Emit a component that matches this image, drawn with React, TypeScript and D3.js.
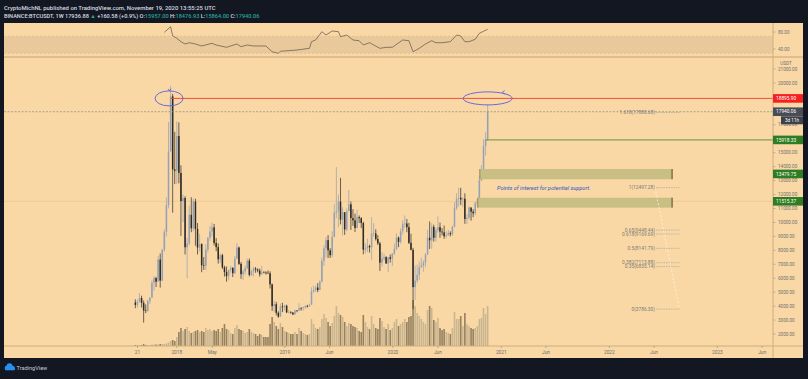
import React from 'react';
import * as d3 from 'd3';

// ---------- DATA (weekly BINANCE:BTCUSDT, weeks from 2017-08-14) ----------
const firstWeek = '2017-08-14';
const firstOpen = 4261.48;
const lastOpen = 15957.0;

const closes = [
  // 2017
  4086, 4310, 4580, 4230, 3690, 3660, 4380, 4610, 5680, 6010, 5750, 7340, 5830, 8040, 9330, 11250, 15090, 19040, 13800, 13700,
  // 2018
  16200, 13550, 11530, 11750, 8220, 8500, 10550, 9580, 11500, 9530, 8200, 8450, 6930, 6900, 8050, 8900, 9350, 9650, 8530, 8230,
  7350, 7650, 6780, 6450, 6150, 6600, 6740, 6360, 7400, 8200, 7030, 6290, 6490, 6720, 7260, 6240, 6490, 6700, 6630, 6550,
  6280, 6410, 6400, 6390, 6350, 5560, 4000, 4140, 3520, 3250, 3980, 3920, 4030,
  // 2019
  3550, 3550, 3540, 3410, 3690, 3670, 3870, 3860, 3920, 4010, 4000, 4100, 5050, 5150, 5330, 5150, 5750, 7250, 8150, 8730,
  8000, 7650, 8960, 10700, 10800, 11490, 10200, 10740, 9500, 10800, 11300, 10310, 10150, 9600, 10380, 10300, 9960, 8050, 8150, 8310,
  8220, 9200, 9210, 8810, 8500, 7120, 7400, 7510, 7060, 7500, 7390, 7760,
  // 2020
  8110, 8910, 8600, 9370, 9900, 9920, 9660, 8540, 8040, 5360, 5830, 6240, 6780, 6910, 7120, 7700, 8900, 8720, 9680, 8900,
  9450, 9660, 9340, 9290, 9010, 9070, 9230, 9160, 9690, 11050, 11700, 11770, 11650, 11700, 10250, 10330, 11080, 10770, 10660, 11370,
  11500, 13030, 13780, 15480, 15960, 17940.06,
];

const highs = [
  4485, 4453, 4939, 4750, 4400, 4123, 4450, 4620, 5856, 6150, 6100, 7600, 7770, 8100, 9500, 11800, 17204, 19798, 19220, 16500,
  17250, 17176, 14100, 12000, 11880, 8900, 11200, 11800, 11700, 11700, 9960, 9180, 8500, 7520, 8430, 8940, 9760, 9990, 9890, 8880,
  8500, 7750, 7750, 6900, 6840, 6600, 6880, 6790, 7600, 8500, 8270, 7160, 6620, 6880, 7400, 7410, 6600, 6830, 6800, 6700,
  6690, 6890, 6500, 6500, 6560, 6500, 5620, 4400, 4310, 3630, 4200, 4240, 4090,
  4100, 3720, 3640, 3550, 3740, 3700, 4200, 3910, 3970, 4060, 4090, 4180, 5350, 5470, 5460, 5650, 5850, 7480, 8370, 8950,
  9090, 8150, 9380, 11300, 13970, 12000, 13200, 11080, 10700, 11000, 12330, 11500, 10950, 10630, 10910, 10500, 10380, 10050, 8520, 8830,
  8410, 10370, 9950, 9510, 9090, 8600, 7870, 7750, 7580, 7520, 7700, 7810,
  8470, 9200, 8990, 9580, 10160, 10500, 10250, 9970, 9190, 8180, 6900, 6970, 7200, 7470, 7290, 7800, 9470, 10070, 9950, 9840,
  9600, 10430, 9990, 9590, 9780, 9360, 9470, 9360, 9770, 11450, 12090, 12480, 12490, 11800, 12090, 10600, 11180, 10990, 10950, 11490,
  11720, 13350, 14100, 15970, 16480, 18476.93,
];

const lows = [
  3850, 3900, 4250, 3900, 2817, 3500, 3600, 4150, 4600, 5100, 5370, 6030, 5325, 5800, 7890, 9000, 11010, 15200, 10700, 12750,
  12750, 12812, 9035, 10030, 7700, 6000, 8350, 9300, 9380, 8330, 7700, 7900, 6430, 6600, 6580, 7830, 8680, 8980, 8350, 7940,
  7050, 7080, 6660, 6120, 5750, 5860, 6390, 6080, 6300, 7380, 6950, 5950, 5880, 6250, 6650, 6130, 6150, 6130, 6390, 6420,
  6110, 6260, 6380, 6260, 6310, 5260, 3650, 3550, 3330, 3160, 3240, 3570, 3670,
  3500, 3480, 3450, 3350, 3370, 3560, 3650, 3680, 3670, 3800, 3900, 3950, 4100, 4950, 5030, 5000, 5150, 5690, 6870, 7500,
  7450, 7450, 7500, 8950, 10300, 9650, 9860, 9070, 9110, 9380, 10820, 9460, 9750, 9310, 9600, 9960, 9600, 7710, 7780, 7880,
  7840, 7300, 8970, 8700, 8380, 6520, 6850, 7260, 7030, 6440, 7120, 6870,
  7670, 8020, 8230, 8470, 9140, 9620, 9300, 8450, 8000, 3782, 4440, 5670, 5860, 6770, 6470, 6790, 7680, 8100, 8120, 8630,
  8630, 9270, 8900, 9070, 8830, 8890, 9050, 9000, 9030, 9650, 10900, 11150, 11250, 11110, 9900, 9880, 10220, 10130, 10380, 10530,
  11170, 11400, 12970, 13210, 14800, 15864,
];

// weekly volume, thousand BTC
const volumes = [
  15, 15, 15, 15, 30, 15, 15, 15, 22, 22, 22, 22, 30, 30, 30, 38, 52, 75, 90, 75,
  135, 210, 270, 225, 255, 285, 225, 195, 210, 225, 240, 210, 225, 210, 270, 240, 255, 225, 240, 225,
  255, 210, 270, 330, 255, 240, 195, 180, 270, 315, 255, 240, 225, 195, 210, 255, 210, 195, 180, 150,
  180, 165, 135, 135, 135, 330, 435, 360, 300, 255, 345, 285, 225,
  210, 195, 180, 180, 210, 180, 270, 225, 195, 180, 165, 180, 405, 330, 270, 255, 285, 405, 480, 420,
  360, 300, 345, 450, 600, 495, 465, 435, 360, 300, 345, 330, 300, 285, 270, 225, 210, 465, 360, 285,
  255, 450, 330, 270, 255, 420, 375, 285, 255, 330, 240, 270,
  360, 405, 300, 330, 360, 405, 360, 435, 450, 690, 600, 495, 450, 405, 360, 330, 540, 600, 570, 390,
  360, 420, 270, 240, 255, 210, 195, 180, 270, 510, 405, 405, 450, 300, 495, 330, 300, 270, 255, 270,
  300, 405, 420, 570, 480, 600,
];

// RSI(14): [week index, value]
const rsiWeeks = [14, 17, 18, 20, 22, 24, 26, 29, 32, 37, 39, 44, 49, 51, 54, 57, 63, 66, 69, 70, 78, 84, 85, 87, 90, 92, 95, 98, 99, 102, 105, 108, 110, 113, 118, 121, 124, 129, 132, 134, 137, 140, 143, 145, 148, 152, 155, 157, 159, 161, 164, 166, 170];
const rsiValues = [79.3, 92.5, 71.3, 65.2, 57.2, 51.8, 54.8, 51.8, 47.1, 53.4, 49.4, 44.0, 51.8, 45.4, 49.4, 47.1, 47.1, 33.6, 29.9, 34.6, 37.6, 41.6, 57.2, 61.2, 80.7, 72.9, 82.4, 80.7, 68.9, 72.9, 61.2, 59.5, 49.4, 54.8, 41.6, 44.0, 44.0, 61.2, 59.5, 33.6, 41.6, 51.8, 59.5, 54.8, 54.8, 57.2, 72.9, 70.6, 57.2, 57.2, 62.8, 76.9, 86.4];

const priceTicks = [2000, 3000, 4000, 5000, 6000, 7000, 8000, 9000, 10000, 11000, 12000, 13000, 14000, 15000, 16000, 17000, 18000, 19000, 20000, 21000];
const rsiTicks = [80, 40];

const timeLabelDates = ['2017-08-21', '2018-01-01', '2018-05-01', '2019-01-01', '2019-06-01', '2020-01-01', '2020-06-01', '2021-01-01', '2021-06-01', '2022-01-01', '2022-06-01', '2023-01-01', '2023-06-01'];
const timeLabelTexts = ['21', '2018', 'May', '2019', 'Jun', '2020', 'Jun', '2021', 'Jun', '2022', 'Jun', '2023', 'Jun'];

const athPrice = 18895.9;
const lastPrice = 17940.06;
const greenLevels = [15918.33, 13479.75, 11515.37];
const zoneTop = [13100, 13830];
const zoneBottom = [11060, 11775];
const zoneStartDates = ['2020-10-19', '2020-10-12'];
const zoneEndDate = '2022-08-01';

const fibPrices = [17880.68, 12497.28, 9448.44, 9169.69, 8141.79, 7113.88, 6835.14, 3786.3];
const fibLabels = ['1.618(17880.68)', '1(12497.28)', '0.65(9448.44)', '0.618(9169.69)', '0.5(8141.79)', '0.382(7113.88)', '0.35(6835.14)', '0(3786.30)'];
const fibStartDate = '2022-06-04';
const fibEndDate = '2022-08-26';

const FONT = 'Roboto, "Liberation Sans", sans-serif';

export default function App() {
  const W = 808;
  const H = 379;
  const PL = 4, PR = 773, PRR = 803, PT = 23, PB = 358;
  const AX = 346; // x-axis line
  const SEP = 57; // pane separator

  const utc = (s: string) => new Date(s + 'T00:00:00Z');
  const x = d3.scaleUtc().domain([utc('2018-01-01'), utc('2023-01-01')]).range([176.8, 717.4]);
  const y = d3.scaleLinear().domain([2000, 20000]).range([334, 83]);
  const yR = d3.scaleLinear().domain([40, 80]).range([49, 32]);
  const yV = d3.scaleLinear().domain([0, 690]).range([AX, 300]);
  const start = utc(firstWeek);
  const wk = (i: number) => d3.utcDay.offset(start, 7 * i);

  const candles = closes.map((c, i) => ({
    d: wk(i),
    o: i === 0 ? firstOpen : i === closes.length - 1 ? lastOpen : closes[i - 1],
    h: highs[i],
    l: lows[i],
    c,
    v: volumes[i],
  }));

  const rsiLine = d3
    .line<number>()
    .x((_, i) => x(wk(rsiWeeks[i])))
    .y((v) => yR(v));

  const bg = '#f9d8a6';
  const upC = '#93a0b5';
  const dnC = '#2e2a26';
  const upV = '#c9b690';
  const dnV = '#958060';
  const axisCol = '#cfae80';
  const tickTxt = '#707070';

  const peakX = x(wk(17));
  const lastX = x(wk(170));
  const fx1 = x(utc(fibStartDate));
  const fx2 = x(utc(fibEndDate));

  // y positions occupied by coloured price labels (tick labels hidden under them)
  const boxYs = [y(athPrice), y(lastPrice), y(greenLevels[0]), y(greenLevels[1]), y(greenLevels[2])];
  const visibleTicks = priceTicks.filter((t) => boxYs.every((b) => Math.abs(y(t) - b) > 6.5));

  const box = (yy: number, fill: string, label: string, key: string) => (
    <g key={key}>
      <rect x={PR} y={yy - 4.3} width={PRR - PR} height={8.6} fill={fill} />
      <text x={776} y={yy} dy="0.35em" fontSize={4.8} fill="#ffffff" fontFamily={FONT}>
        {label}
      </text>
    </g>
  );

  return (
    <svg width={W} height={H} style={{ position: 'fixed', left: 0, top: 0 }} fontFamily={FONT}>
      <defs>
        <clipPath id="main">
          <rect x={PL} y={SEP + 1} width={PR - PL} height={AX - SEP - 1} />
        </clipPath>
        <clipPath id="rsi">
          <rect x={PL} y={PT} width={PR - PL} height={SEP - PT} />
        </clipPath>
      </defs>
      <rect x={0} y={0} width={W} height={H} fill="#131722" />
      {/* header */}
      <text x={4} y={10.3} fontSize={5.9} fill="#d8dbe2" fontWeight={500}>
        CryptoMichNL published on TradingView.com, November 19, 2020 13:55:25 UTC
      </text>
      <text x={4} y={18} fontSize={5.6} fill="#d8dbe2" fontWeight={500}>
        <tspan>BINANCE:BTCUSDT, 1W  17936.88 </tspan>
        <tspan fill="#26a69a">▲</tspan>
        <tspan> +160.58 (+0.9%) O:</tspan>
        <tspan fill="#26a69a">15957.00</tspan>
        <tspan> H:</tspan>
        <tspan fill="#26a69a">18476.93</tspan>
        <tspan> L:</tspan>
        <tspan fill="#26a69a">15864.00</tspan>
        <tspan> C:</tspan>
        <tspan fill="#26a69a">17940.06</tspan>
      </text>

      {/* panel */}
      <rect x={PL} y={PT} width={PRR - PL} height={PB - PT} fill={bg} />

      {/* RSI pane */}
      <rect x={PL} y={yR(70)} width={PR - PL} height={yR(30) - yR(70)} fill="#e9c99c" />
      <line x1={PL} x2={PR} y1={yR(70)} y2={yR(70)} stroke="#dcbb8e" strokeDasharray="2,2" strokeWidth={0.7} />
      <line x1={PL} x2={PR} y1={yR(30)} y2={yR(30)} stroke="#dcbb8e" strokeDasharray="2,2" strokeWidth={0.7} />
      <g clipPath="url(#rsi)">
        <path d={rsiLine(rsiValues) || ''} fill="none" stroke="#6c6253" strokeWidth={0.8} />
      </g>
      <line x1={PL} x2={PRR} y1={SEP} y2={SEP} stroke="#d8b585" strokeWidth={1.6} />

      {/* main pane */}
      <g clipPath="url(#main)">
        {/* faint extended level */}
        <line x1={PL} x2={PR} y1={y(greenLevels[2])} y2={y(greenLevels[2])} stroke="#ecc797" strokeWidth={0.8} />
        {/* volume */}
        {candles.map((k, i) => (
          <rect
            key={'v' + i}
            x={x(k.d) - 0.8}
            y={yV(k.v)}
            width={1.6}
            height={AX - yV(k.v)}
            fill={k.c >= k.o ? upV : dnV}
          />
        ))}
        {/* candles */}
        {candles.map((k, i) => {
          const col = k.c >= k.o ? upC : dnC;
          const cx = x(k.d);
          const yt = y(Math.max(k.o, k.c));
          const yb = y(Math.min(k.o, k.c));
          return (
            <g key={'c' + i}>
              <line x1={cx} x2={cx} y1={y(k.h)} y2={y(k.l)} stroke={col} strokeWidth={0.7} />
              <rect x={cx - 0.75} y={yt} width={1.5} height={Math.max(0.6, yb - yt)} fill={col} />
            </g>
          );
        })}

        {/* current price dashed line */}
        <line x1={PL} x2={PR} y1={y(lastPrice)} y2={y(lastPrice)} stroke="#8a8a8a" strokeDasharray="2,1.5" strokeWidth={0.7} />
        {/* ATH red line */}
        <line x1={peakX} x2={PR} y1={y(athPrice)} y2={y(athPrice)} stroke="#f0412f" strokeWidth={0.9} />
        {/* green ray */}
        <line x1={x(wk(169))} x2={PR} y1={y(greenLevels[0])} y2={y(greenLevels[0])} stroke="#4f8f2c" strokeWidth={0.9} />

        {/* support zones */}
        {[zoneTop, zoneBottom].map((z, i) => {
          const x0 = x(utc(zoneStartDates[i]));
          const x1 = x(utc(zoneEndDate));
          return (
            <g key={'z' + i}>
              <rect x={x0} y={y(z[1])} width={x1 - x0} height={y(z[0]) - y(z[1])} fill="#c9bf84" />
              <line x1={x0 + 0.5} x2={x0 + 0.5} y1={y(z[1])} y2={y(z[0])} stroke="#7d7a3c" strokeWidth={1} opacity={0.7} />
              <line x1={x1} x2={x1} y1={y(z[1])} y2={y(z[0])} stroke="#3c3a1c" strokeWidth={0.9} />
            </g>
          );
        })}
        <text x={497} y={y(12497.28)} dy="0.35em" fontSize={5.6} fill="#2f55c8" fontStyle="italic">
          Points of interest for potential support.
        </text>

        {/* fib retracement */}
        <line x1={fx1} y1={y(fibPrices[1])} x2={fx2} y2={y(fibPrices[7])} stroke="#fff2dc" strokeDasharray="2,2" strokeWidth={0.8} />
        {fibPrices.map((p, i) => (
          <g key={'f' + i}>
            <line x1={fx1 + 1} x2={fx2} y1={y(p)} y2={y(p)} stroke="#9a9a9a" strokeDasharray="1.5,1" strokeWidth={0.6} />
            <text x={fx1} y={y(p)} dy="0.35em" fontSize={4.8} fill="#7a7a7a" textAnchor="end">
              {fibLabels[i]}
            </text>
          </g>
        ))}

        {/* ellipses */}
        <ellipse cx={peakX - 1.5} cy={y(athPrice)} rx={14} ry={7.5} fill="none" stroke="#5a5ce0" strokeWidth={0.9} />
        <path d={`M${peakX - 2.5},${y(athPrice) - 9.5} L${peakX - 1},${y(athPrice) - 7.5} L${peakX + 0.5},${y(athPrice) - 9.8}`} fill="none" stroke="#5a5ce0" strokeWidth={0.8} />
        <ellipse cx={lastX} cy={y(athPrice)} rx={24.5} ry={6.5} fill="none" stroke="#5a5ce0" strokeWidth={0.9} />
        <path d={`M${lastX + 17},${y(athPrice) - 7.8} L${lastX + 14.5},${y(athPrice) - 6} L${lastX + 17},${y(athPrice) - 4.3}`} fill="none" stroke="#5a5ce0" strokeWidth={0.8} />
      </g>

      {/* x axis */}
      <line x1={PL} x2={PRR} y1={AX} y2={AX} stroke={axisCol} strokeWidth={1} />
      {timeLabelDates.map((d, i) => {
        const xx = x(utc(d));
        return (
          <g key={'t' + i}>
            <line x1={xx} x2={xx} y1={AX} y2={AX + 2} stroke="#a08a6a" strokeWidth={0.6} />
            <text x={xx} y={352.5} dy="0.35em" fontSize={4.8} fill={tickTxt} textAnchor="middle">
              {timeLabelTexts[i]}
            </text>
          </g>
        );
      })}

      {/* right axis */}
      <line x1={PR} x2={PR} y1={PT} y2={PB} stroke={axisCol} strokeWidth={1} />
      {rsiTicks.map((t) => (
        <g key={'r' + t}>
          <line x1={PR} x2={PR + 2.5} y1={yR(t)} y2={yR(t)} stroke="#8a8a8a" strokeWidth={0.5} />
          <text x={778} y={yR(t)} dy="0.35em" fontSize={4.6} fill={tickTxt}>
            {t.toFixed(2)}
          </text>
        </g>
      ))}
      <text x={786} y={63} dy="0.35em" fontSize={4.6} fill={tickTxt} textAnchor="middle">
        USDT
      </text>
      {visibleTicks.map((t) => (
        <g key={'p' + t}>
          <line x1={PR} x2={PR + 2.5} y1={y(t)} y2={y(t)} stroke="#8a8a8a" strokeWidth={0.5} />
          <text x={778} y={y(t)} dy="0.35em" fontSize={4.6} fill={tickTxt}>
            {t.toFixed(2)}
          </text>
        </g>
      ))}
      {box(y(athPrice), '#f71f1f', athPrice.toFixed(2), 'b1')}
      {box(y(lastPrice), '#474c57', lastPrice.toFixed(2), 'b2')}
      <rect x={781} y={116.3} width={22} height={8} fill="#3b404b" />
      <text x={792} y={120.3} dy="0.35em" fontSize={4.6} fill="#ffffff" textAnchor="middle">
        3d 11h
      </text>
      {greenLevels.map((g, i) => box(y(g), '#2f7d22', g.toFixed(2), 'g' + i))}

      {/* footer */}
      <rect x={0} y={PB} width={W} height={H - PB} fill="#131722" />
      <g fill="#2a8ff0">
        <circle cx={9.5} cy={366.2} r={3} />
        <circle cx={7} cy={368} r={2.3} />
        <circle cx={12.5} cy={368} r={2.3} />
        <rect x={5} y={367.5} width={10} height={2.8} rx={1} />
      </g>
      <text x={16.5} y={368} dy="0.35em" fontSize={5.6} fill="#c8ccd6">
        TradingView
      </text>
    </svg>
  );
}
